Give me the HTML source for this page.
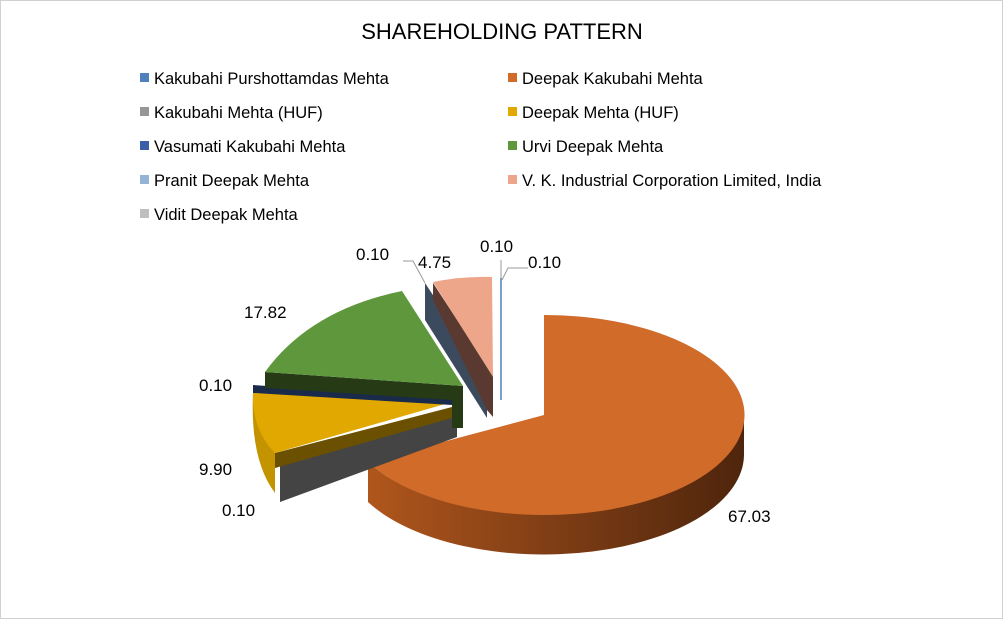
<!DOCTYPE html>
<html><head><style>
body{margin:0;background:#fff;}
svg{display:block;font-family:"Liberation Sans",sans-serif;}
</style></head><body>
<svg width="1003" height="619" viewBox="0 0 1003 619">
<defs>
<linearGradient id="og" x1="0" x2="1" y1="0" y2="0">
<stop offset="0" stop-color="#b0561c"/><stop offset="0.5" stop-color="#7e3d15"/><stop offset="1" stop-color="#4e250c"/>
</linearGradient>
</defs>
<rect x="0.5" y="0.5" width="1002" height="618" fill="#fff" stroke="#d0d0d0"/>
<text x="502" y="39" font-size="22" text-anchor="middle" fill="#000">SHAREHOLDING PATTERN</text>
<g font-size="16.5" fill="#000">
<rect x="140" y="73" width="9" height="9" fill="#4f81bd"/><text x="154" y="84">Kakubahi Purshottamdas Mehta</text>
<rect x="140" y="107" width="9" height="9" fill="#969696"/><text x="154" y="118">Kakubahi Mehta (HUF)</text>
<rect x="140" y="141" width="9" height="9" fill="#3a5ea8"/><text x="154" y="152">Vasumati Kakubahi Mehta</text>
<rect x="140" y="175" width="9" height="9" fill="#95b3d7"/><text x="154" y="186">Pranit Deepak Mehta</text>
<rect x="140" y="209" width="9" height="9" fill="#bfbfbf"/><text x="154" y="220">Vidit Deepak Mehta</text>
<rect x="508" y="73" width="9" height="9" fill="#d06b2a"/><text x="522" y="84">Deepak Kakubahi Mehta</text>
<rect x="508" y="107" width="9" height="9" fill="#e0a800"/><text x="522" y="118">Deepak Mehta (HUF)</text>
<rect x="508" y="141" width="9" height="9" fill="#5f973d"/><text x="522" y="152">Urvi Deepak Mehta</text>
<rect x="508" y="175" width="9" height="9" fill="#eea68a"/><text x="522" y="186">V. K. Industrial Corporation Limited, India</text>
</g>
<!-- orange -->
<path d="M744,415 A200,100 0 0,1 368,462 L368,502 A200,100 0 0,0 744,455 Z" fill="url(#og)"/>
<path d="M544,415 L544,315 A200,100 0 1,1 368,462 Z" fill="#d06b2a"/>
<!-- dark gray wall -->
<path d="M280,458 L457,415 L457,437 L280,502 Z" fill="#444"/>
<!-- yellow -->
<path d="M253,393 Q250,460 275,493 L275,453 Z" fill="#c49400"/>
<path d="M275,453 L452,407 L452,418 L275,468 Z" fill="#6a5000"/>
<path d="M452,402 L253,393 Q252,430 275,453 Z" fill="#e0a800"/>
<!-- navy strip -->
<path d="M253,385 L452,398 L452,405 L253,393 Z" fill="#1a2a4a"/>
<!-- green -->
<path d="M265,372 L463,386 L463,428 L452,428 L452,400 L265,388 Z" fill="#263a16"/>
<path d="M463,386 L402,291 Q310,310 265,372 Z" fill="#5f973d"/>
<!-- slate -->
<path d="M425,283 L487,377 L487,418 L425,320 Z" fill="#3c4a5e"/>
<path d="M433,283 L493,375 L493,417 L487,410 L433,300 Z" fill="#5a3a30"/>
<path d="M433,282 Q462,276 492,277 L493,377 Z" fill="#eea68a"/>
<line x1="501" y1="278" x2="501" y2="400" stroke="#4f81bd" stroke-width="1.5"/>
<!-- leader lines -->
<polyline points="403,261 413,261 425,283" fill="none" stroke="#999"/>
<polyline points="502,280 508,268 528,268" fill="none" stroke="#999"/>
<line x1="501" y1="260" x2="501" y2="278" stroke="#999"/>
<g font-size="17" fill="#000">
<text x="356" y="260">0.10</text>
<text x="418" y="268">4.75</text>
<text x="480" y="252">0.10</text>
<text x="528" y="268">0.10</text>
<text x="244" y="318">17.82</text>
<text x="199" y="391">0.10</text>
<text x="199" y="475">9.90</text>
<text x="222" y="516">0.10</text>
<text x="728" y="522">67.03</text>
</g>
</svg>
</body></html>
